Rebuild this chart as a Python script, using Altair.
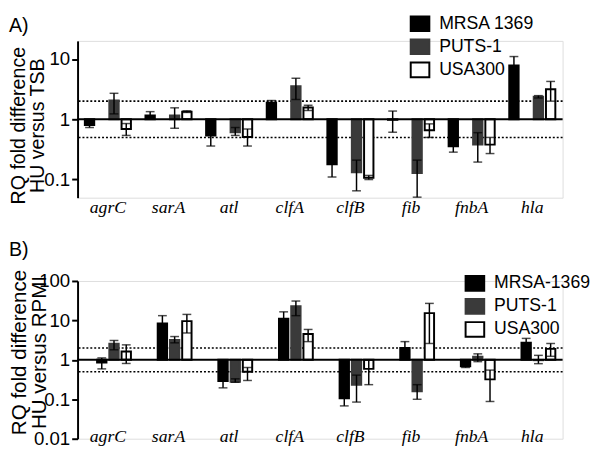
import altair as alt
import pandas as pd

genes = ["agrC", "sarA", "atl", "clfA", "clfB", "fib", "fnbA", "hla"]

# Panel A (HU versus TSB)
strains_a = ["MRSA 1369", "PUTS-1", "USA300"]
a_mrsa = [0.80, 1.16, 0.54, 1.88, 0.18, 0.98, 0.355, 7.8]
a_mrsa_lo = [0.73, 1.00, 0.36, 1.72, 0.11, 0.61, 0.285, 5.5]
a_mrsa_hi = [0.88, 1.34, 0.75, 2.05, 0.28, 1.37, 0.44, 11.0]
a_puts = [2.05, 1.16, 0.61, 3.55, 0.132, 0.128, 0.38, 2.38]
a_puts_lo = [1.23, 0.71, 0.54, 2.13, 0.065, 0.051, 0.195, 2.26]
a_puts_hi = [2.7, 1.55, 0.73, 4.8, 0.21, 0.21, 0.60, 2.47]
a_usa = [0.69, 1.34, 0.51, 1.57, 0.107, 0.66, 0.38, 3.14]
a_usa_lo = [0.54, 1.30, 0.36, 1.40, 0.100, 0.50, 0.27, 2.0]
a_usa_hi = [0.85, 1.38, 0.69, 1.71, 0.117, 0.84, 0.50, 4.25]

# Panel B (HU versus RPMI)
strains_b = ["MRSA-1369", "PUTS-1", "USA300"]
b_mrsa = [0.85, 8.3, 0.29, 11.1, 0.106, 2.0, 0.69, 2.7]
b_mrsa_lo = [0.59, 5.0, 0.195, 7.5, 0.068, 1.4, 0.64, 2.0]
b_mrsa_hi = [1.12, 13.2, 0.42, 16.5, 0.16, 2.9, 0.74, 3.5]
b_puts = [2.58, 3.2, 0.28, 23.0, 0.235, 0.16, 1.2, 0.98]
b_puts_lo = [1.8, 2.7, 0.27, 13.2, 0.085, 0.10, 0.9, 0.8]
b_puts_hi = [3.1, 3.9, 0.33, 31.0, 0.41, 0.235, 1.42, 1.3]
b_usa = [1.62, 9.6, 0.50, 4.5, 0.59, 15.3, 0.32, 1.9]
b_usa_lo = [0.81, 4.8, 0.30, 2.9, 0.235, 2.6, 0.088, 1.23]
b_usa_hi = [2.4, 14.2, 0.64, 5.9, 1.0, 27.0, 0.55, 2.6]

baseline_level = [1.0]
dotted_levels = [2.0, 0.5]

FILLS = ["#000000", "#3a3a3a", "#ffffff"]
STROKES = ["#000000", "#3a3a3a", "#000000"]
SANS = "Liberation Sans"
SERIF = "Liberation Serif"

W = 495


def make_df(strains, vals, los, his):
    rows = []
    for s, v, lo, hi in zip(strains, vals, los, his):
        for g, vv, ll, hh in zip(genes, v, lo, hi):
            rows.append(dict(gene=g, strain=s, value=vv, lo=ll, hi=hh, base=1.0))
    return pd.DataFrame(rows)


def panel(df, strains, domain, ticks, ytitle, tag, legend_x, legend_y,
          label_pad, title_size, title_lh, extent, tag_offset, height,
          title_shift):
    x = alt.X("gene:N", sort=genes,
              scale=alt.Scale(paddingInner=0.24, paddingOuter=0.12),
              axis=alt.Axis(title=None, domain=False, ticks=False,
                            labelFont=SERIF, labelFontStyle="italic",
                            labelFontSize=18, labelAngle=0,
                            labelPadding=label_pad, labelColor="black",
                            labelBaseline="alphabetic"))
    xo = alt.XOffset("strain:N", sort=strains,
                     scale=alt.Scale(paddingInner=0.235, paddingOuter=0))
    yscale = alt.Scale(type="log", domain=domain, nice=False)
    yaxis = alt.Axis(values=ticks, format="~g", title=ytitle, grid=False,
                     domainColor="black", domainWidth=2, tickColor="black",
                     tickWidth=2, tickSize=6, labelFont=SANS,
                     labelFontSize=19, labelColor="black",
                     labelPadding=2, titleFont=SANS, titleFontSize=title_size,
                     titleFontWeight="normal", titleColor="black",
                     titleLineHeight=title_lh, titlePadding=0,
                     titleY=height / 2 - title_shift,
                     minExtent=extent, maxExtent=extent)

    base = alt.Chart(df)

    dotted = alt.Chart(pd.DataFrame({"lvl": dotted_levels})).mark_rule(
        color="black", strokeWidth=1.6, strokeDash=[2, 2]
    ).encode(y=alt.Y("lvl:Q", scale=yscale, axis=yaxis))

    bars = base.mark_bar(strokeWidth=2).encode(
        x=x, xOffset=xo,
        y=alt.Y("value:Q", scale=yscale, axis=yaxis),
        y2="base:Q",
        color=alt.Color("strain:N", sort=strains,
                        scale=alt.Scale(domain=strains, range=FILLS),
                        legend=alt.Legend(
                            title=None, orient="none", legendX=legend_x,
                            legendY=legend_y, labelFont=SANS,
                            labelFontSize=18, labelColor="black",
                            symbolType="M-1,-0.79H1V0.79H-1Z",
                            symbolSize=361, symbolStrokeColor="black",
                            symbolStrokeWidth=2, symbolOpacity=1,
                            labelOffset=9, rowPadding=-1.5, padding=0)),
        stroke=alt.Stroke("strain:N", sort=strains,
                          scale=alt.Scale(domain=strains, range=STROKES),
                          legend=None),
    )

    err = base.mark_rule(color="black", strokeWidth=1.5).encode(
        x=x, xOffset=xo, y=alt.Y("lo:Q", scale=yscale), y2="hi:Q")
    cap_lo = base.mark_tick(color="black", thickness=1.5, size=9).encode(
        x=x, xOffset=xo, y=alt.Y("lo:Q", scale=yscale))
    cap_hi = base.mark_tick(color="black", thickness=1.5, size=9).encode(
        x=x, xOffset=xo, y=alt.Y("hi:Q", scale=yscale))

    baseline = alt.Chart(pd.DataFrame({"lvl": baseline_level})).mark_rule(
        color="black", strokeWidth=2
    ).encode(y=alt.Y("lvl:Q", scale=yscale))

    return alt.layer(dotted, bars, err, cap_lo, cap_hi, baseline).properties(
        width=W, height=height,
        title=alt.TitleParams(tag, anchor="start", font=SANS, fontSize=20,
                              fontWeight="normal", color="black",
                              offset=tag_offset),
    )


df_a = make_df(strains_a, [a_mrsa, a_puts, a_usa],
               [a_mrsa_lo, a_puts_lo, a_usa_lo],
               [a_mrsa_hi, a_puts_hi, a_usa_hi])
df_b = make_df(strains_b, [b_mrsa, b_puts, b_usa],
               [b_mrsa_lo, b_puts_lo, b_usa_lo],
               [b_mrsa_hi, b_puts_hi, b_usa_hi])

pa = panel(df_a, strains_a, [0.05, 20], [0.1, 1, 10],
           ["RQ fold difference", "HU versus TSB"], "A)", 339, -28, 15,
           20, 19, 31, -23, 160, -6)
pb = panel(df_b, strains_b, [0.01, 100], [0.01, 0.1, 1, 10, 100],
           ["RQ fold difference", "HU versus RPMI"], "B)", 395, -8, 3,
           21, 20, 29, 10, 161, 8)

chart = alt.vconcat(pa, pb, spacing=22).resolve_scale(
    color="independent", stroke="independent", y="independent"
).properties(
    padding={"left": 0, "top": 0, "right": 0, "bottom": 0}
).configure_view(stroke=None).configure(background="white")

chart.save("out.html", embed_options={"renderer": "svg", "actions": False})
